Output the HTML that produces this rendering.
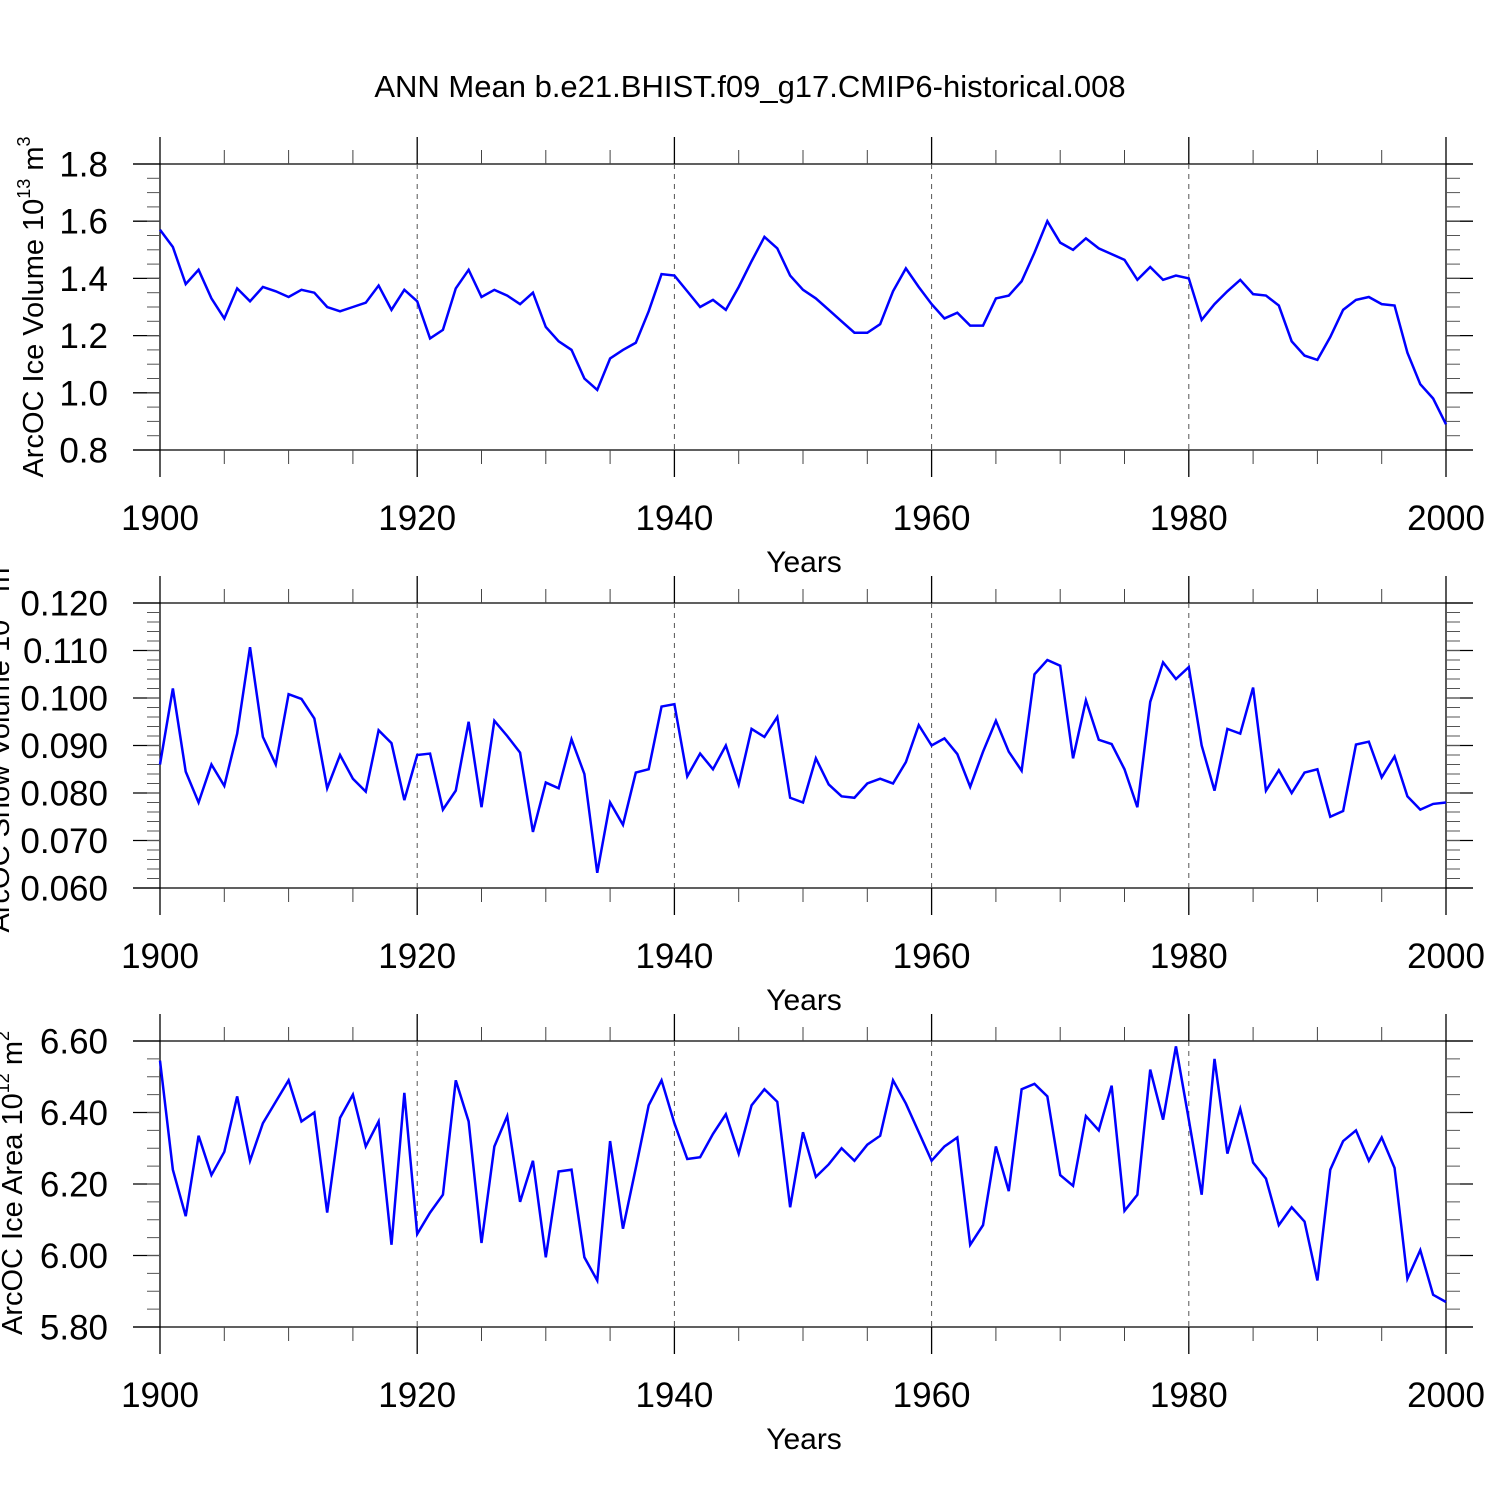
<!DOCTYPE html>
<html><head><meta charset="utf-8"><style>
html,body{margin:0;padding:0;background:#fff;}
svg{display:block;font-family:"Liberation Sans",Arial,sans-serif;}
</style></head><body>
<svg id="chart" width="1500" height="1500" viewBox="0 0 1500 1500" xmlns="http://www.w3.org/2000/svg">
<text x="750" y="97" font-size="31" text-anchor="middle">ANN Mean b.e21.BHIST.f09_g17.CMIP6-historical.008</text>
</svg>
<script>
const years = [];
for (let y = 1900; y <= 2000; y++) years.push(y);
const xTickLabels = ["1900","1920","1940","1960","1980","2000"];
const iceVolume = [1.57,1.51,1.38,1.43,1.33,1.26,1.365,1.32,1.37,1.355,1.335,1.36,1.35,1.30,1.285,1.30,1.315,1.375,1.29,1.36,1.32,1.19,1.22,1.365,1.43,1.335,1.36,1.34,1.31,1.35,1.23,1.18,1.15,1.05,1.01,1.12,1.15,1.175,1.285,1.415,1.41,1.355,1.30,1.325,1.29,1.37,1.46,1.545,1.505,1.41,1.36,1.33,1.29,1.25,1.21,1.21,1.24,1.355,1.435,1.37,1.31,1.26,1.28,1.235,1.235,1.33,1.34,1.39,1.49,1.60,1.525,1.50,1.54,1.505,1.485,1.465,1.395,1.44,1.395,1.41,1.40,1.255,1.31,1.355,1.395,1.345,1.34,1.305,1.18,1.13,1.115,1.195,1.29,1.325,1.335,1.31,1.305,1.14,1.03,0.98,0.89];
const snowVolume = [.086,.102,.0845,.078,.086,.0815,.0925,.1107,.0918,.086,.1008,.0998,.0957,.081,.088,.083,.0803,.0932,.0905,.0785,.088,.0883,.0765,.0805,.095,.077,.0952,.092,.0885,.0718,.0822,.081,.0913,.084,.0632,.078,.0733,.0843,.085,.0982,.0987,.0835,.0883,.085,.09,.0818,.0935,.0918,.096,.079,.078,.0873,.0818,.0793,.079,.082,.083,.082,.0865,.0943,.090,.0915,.0882,.0813,.0887,.0952,.0887,.0847,.105,.108,.1068,.0873,.0995,.0912,.0903,.085,.077,.0992,.1075,.104,.1065,.090,.0805,.0935,.0925,.1022,.0805,.0848,.080,.0843,.085,.075,.0762,.0902,.0908,.0833,.0877,.0793,.0765,.0777,.078];
const iceArea = [6.545,6.24,6.11,6.335,6.225,6.29,6.445,6.265,6.37,6.43,6.49,6.375,6.40,6.12,6.385,6.45,6.305,6.375,6.03,6.455,6.06,6.12,6.17,6.49,6.375,6.035,6.305,6.39,6.15,6.265,5.995,6.235,6.24,5.995,5.93,6.32,6.075,6.245,6.42,6.49,6.37,6.27,6.275,6.34,6.395,6.285,6.42,6.465,6.43,6.135,6.345,6.22,6.255,6.30,6.265,6.31,6.335,6.49,6.425,6.345,6.265,6.305,6.33,6.03,6.085,6.305,6.18,6.465,6.48,6.445,6.225,6.195,6.39,6.35,6.475,6.125,6.17,6.52,6.38,6.585,6.38,6.17,6.55,6.285,6.41,6.26,6.215,6.085,6.135,6.095,5.93,6.24,6.32,6.35,6.265,6.33,6.245,5.935,6.015,5.89,5.87];
const volTicks = ["0.8","1.0","1.2","1.4","1.6","1.8"];
const snowTicks = ["0.060","0.070","0.080","0.090","0.100","0.110","0.120"];
const areaTicks = ["5.80","6.00","6.20","6.40","6.60"];

const NS = "http://www.w3.org/2000/svg";
const svg = document.getElementById("chart");
function mk(tag, attrs, parent) {
  const e = document.createElementNS(NS, tag);
  for (const k in attrs) e.setAttribute(k, attrs[k]);
  (parent || svg).appendChild(e);
  return e;
}
const X0 = 160, X1 = 1446;
function xScale(yr) { return X0 + (yr - 1900) * (X1 - X0) / 100; }

function panel(cfg) {
  const g = mk("g", {});
  
  
  const top = cfg.top, bot = cfg.bot;
  const ymin = parseFloat(cfg.ticks[0]), ymax = parseFloat(cfg.ticks[cfg.ticks.length - 1]);
  const yScale = v => bot - (v - ymin) / (ymax - ymin) * (bot - top);
  mk("line", {x1: 133, x2: 1473, y1: top, y2: top, stroke: "#000", "stroke-width": 1.3}, g);
  mk("line", {x1: 133, x2: 1473, y1: bot, y2: bot, stroke: "#000", "stroke-width": 1.3}, g);
  xTickLabels.forEach((lab, i) => {
    const x = xScale(parseFloat(lab));
    if (i === 0 || i === xTickLabels.length - 1) {
      mk("line", {x1: x, x2: x, y1: top - 27, y2: bot + 27, stroke: "#000", "stroke-width": 1.3}, g);
    } else {
      mk("line", {x1: x, x2: x, y1: top - 27, y2: top, stroke: "#000", "stroke-width": 1.3}, g);
      mk("line", {x1: x, x2: x, y1: bot, y2: bot + 27, stroke: "#000", "stroke-width": 1.3}, g);
      mk("line", {x1: x, x2: x, y1: top, y2: bot, stroke: "#555", "stroke-width": 1, "stroke-dasharray": "5,5"}, g);
    }
    const t = mk("text", {x: x, y: bot + 80, "font-size": 35, "text-anchor": "middle"}, g);
    
    
    t.textContent = lab;
  });
  for (let yr = 1905; yr < 2000; yr += 5) {
    if (yr % 20 === 0) continue;
    const x = xScale(yr);
    mk("line", {x1: x, x2: x, y1: top - 14, y2: top, stroke: "#444", "stroke-width": 1}, g);
    mk("line", {x1: x, x2: x, y1: bot, y2: bot + 14, stroke: "#444", "stroke-width": 1}, g);
  }
  cfg.ticks.forEach(lab => {
    const y = yScale(parseFloat(lab));
    mk("line", {x1: 133, x2: X0, y1: y, y2: y, stroke: "#000", "stroke-width": 1.3}, g);
    mk("line", {x1: X1, x2: 1473, y1: y, y2: y, stroke: "#000", "stroke-width": 1.3}, g);
    const t = mk("text", {x: 108, y: y + 12.5, "font-size": 35, "text-anchor": "end"}, g);
    
    
    t.textContent = lab;
  });
  for (let v = ymin + cfg.minor; v < ymax - cfg.minor / 2; v += cfg.minor) {
    const y = yScale(v);
    mk("line", {x1: 147, x2: X0, y1: y, y2: y, stroke: "#555", "stroke-width": 1}, g);
    mk("line", {x1: X1, x2: 1460, y1: y, y2: y, stroke: "#555", "stroke-width": 1}, g);
  }
  const d = cfg.data.map((v, i) => (i ? "L" : "M") + xScale(years[i]).toFixed(2) + "," + yScale(v).toFixed(2)).join(" ");
  const p = mk("path", {d: d, fill: "none", stroke: "#0000ff", "stroke-width": 2.5, "stroke-linejoin": "miter"}, g);
  
  
  const xt = mk("text", {x: 804, y: bot + 122, "font-size": 30, "text-anchor": "middle"}, g);
  
  
  xt.textContent = "Years";
  const yt = mk("text", {x: 0, y: 0, "font-size": 29, "text-anchor": "middle", transform: "translate(" + cfg.titleX + "," + cfg.titleY + ") rotate(-90)"}, g);
  
  
  yt.innerHTML = cfg.title;
}
panel({name: "ice-volume-panel", top: 164, bot: 450, ticks: volTicks, minor: 0.05, data: iceVolume, titleX: 43, titleY: 307,
  title: 'ArcOC Ice Volume 10<tspan dy="-13" font-size="18">13</tspan><tspan dy="13"> m</tspan><tspan dy="-13" font-size="18">3</tspan>'});
panel({name: "snow-volume-panel", top: 603, bot: 888, ticks: snowTicks, minor: 0.002, data: snowVolume, titleX: 9, titleY: 745,
  title: 'ArcOC Snow Volume 10<tspan dy="-13" font-size="18">13</tspan><tspan dy="13"> m</tspan><tspan dy="-13" font-size="18">3</tspan>'});
panel({name: "ice-area-panel", top: 1041, bot: 1327, ticks: areaTicks, minor: 0.05, data: iceArea, titleX: 22, titleY: 1183,
  title: 'ArcOC Ice Area 10<tspan dy="-13" font-size="18">12</tspan><tspan dy="13"> m</tspan><tspan dy="-13" font-size="18">2</tspan>'});
</script>
</body></html>
